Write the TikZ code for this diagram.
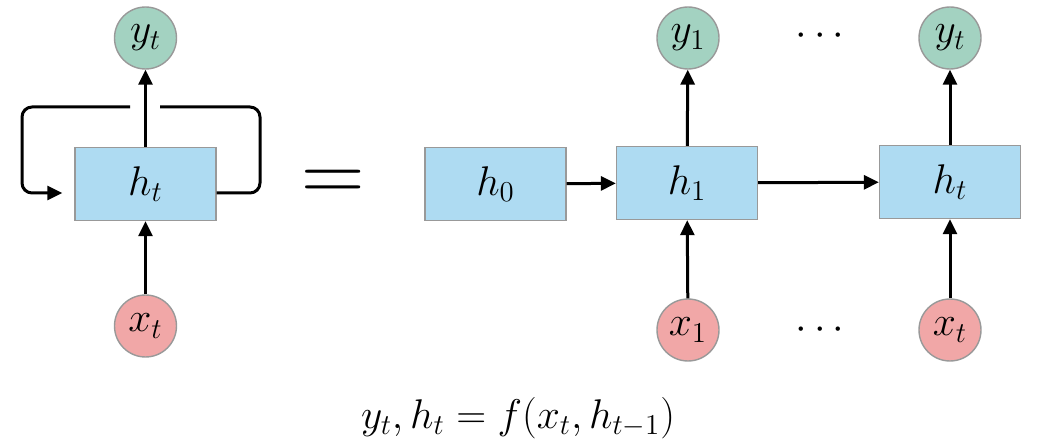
\RequirePackage{fix-cm}
\documentclass[tikz,border=0pt]{standalone}
\usetikzlibrary{arrows.meta,positioning}
\definecolor{cellblue}{RGB}{174,219,242}
\definecolor{outgreen}{RGB}{163,210,193}
\definecolor{inred}{RGB}{241,167,167}
\begin{document}
\begin{tikzpicture}[x=0.5pt,y=-0.5pt, cell/.style={draw=gray!80,line width=0.7pt,fill=cellblue,minimum width=70.5pt,minimum height=36.5pt,inner sep=0pt,font=\huge}, outnode/.style={circle,draw=gray!80,line width=0.7pt,fill=outgreen,minimum size=31pt,inner sep=0pt,font=\huge}, innode/.style={outnode,fill=inred}, conn/.style={line width=1.5pt}, >={Triangle[length=7.5pt,width=7pt]}]
\useasboundingbox (0,0) rectangle (1041,444);
% folded cell
\node[cell] (ht) at (145.5,184) {$h_t$};
\node[outnode] (yt) at (145.5,38) {$y_t$};
\node[innode] (xt) at (145.5,326) {$x_t$};
\coordinate (gapR) at (160,107);\coordinate (gapL) at (130,107);
\coordinate (loopR) at (260,107);\coordinate (loopL) at (22,150);
\draw[conn,->] (xt)--(ht);\draw[conn,->] (ht)--(yt);
\draw[conn,rounded corners=5pt] ([yshift=-4.5pt]ht.east) -| (loopR) -- (gapR);
\draw[conn,->,rounded corners=5pt] (gapL) -| (loopL) |- ([xshift=-6pt,yshift=-4.5pt]ht.west);
\node (eq) at (333,186) {\fontsize{44}{48}\selectfont$=$};
% unrolled
\node[cell] (h0) at (495.5,184) {$h_0$};
\node[cell] (h1) at (687,183) {$h_1$};
\node[cell] (hT) at (950,182) {$h_t$};
\node[outnode] (y1) at (688,38) {$y_1$};
\node[outnode] (yT) at (950,38) {$y_t$};
\node[innode] (x1) at (688,330) {$x_1$};
\node[innode] (xT) at (950,330) {$x_t$};
\node[font=\huge] (dotsup) at (820,36) {$\cdots$};
\node[font=\huge] (dotsdn) at (820,330) {$\cdots$};
\draw[conn,->] (h0)--(h1);\draw[conn,->] (h1)--(hT);
\draw[conn,->] (x1)--(h1);\draw[conn,->] (h1)--(y1);
\draw[conn,->] (xT)--(hT);\draw[conn,->] (hT)--(yT);
\node[font=\huge] (rule) at (518,418) {$y_t, h_t = f(x_t, h_{t-1})$};
\end{tikzpicture}
\end{document}
